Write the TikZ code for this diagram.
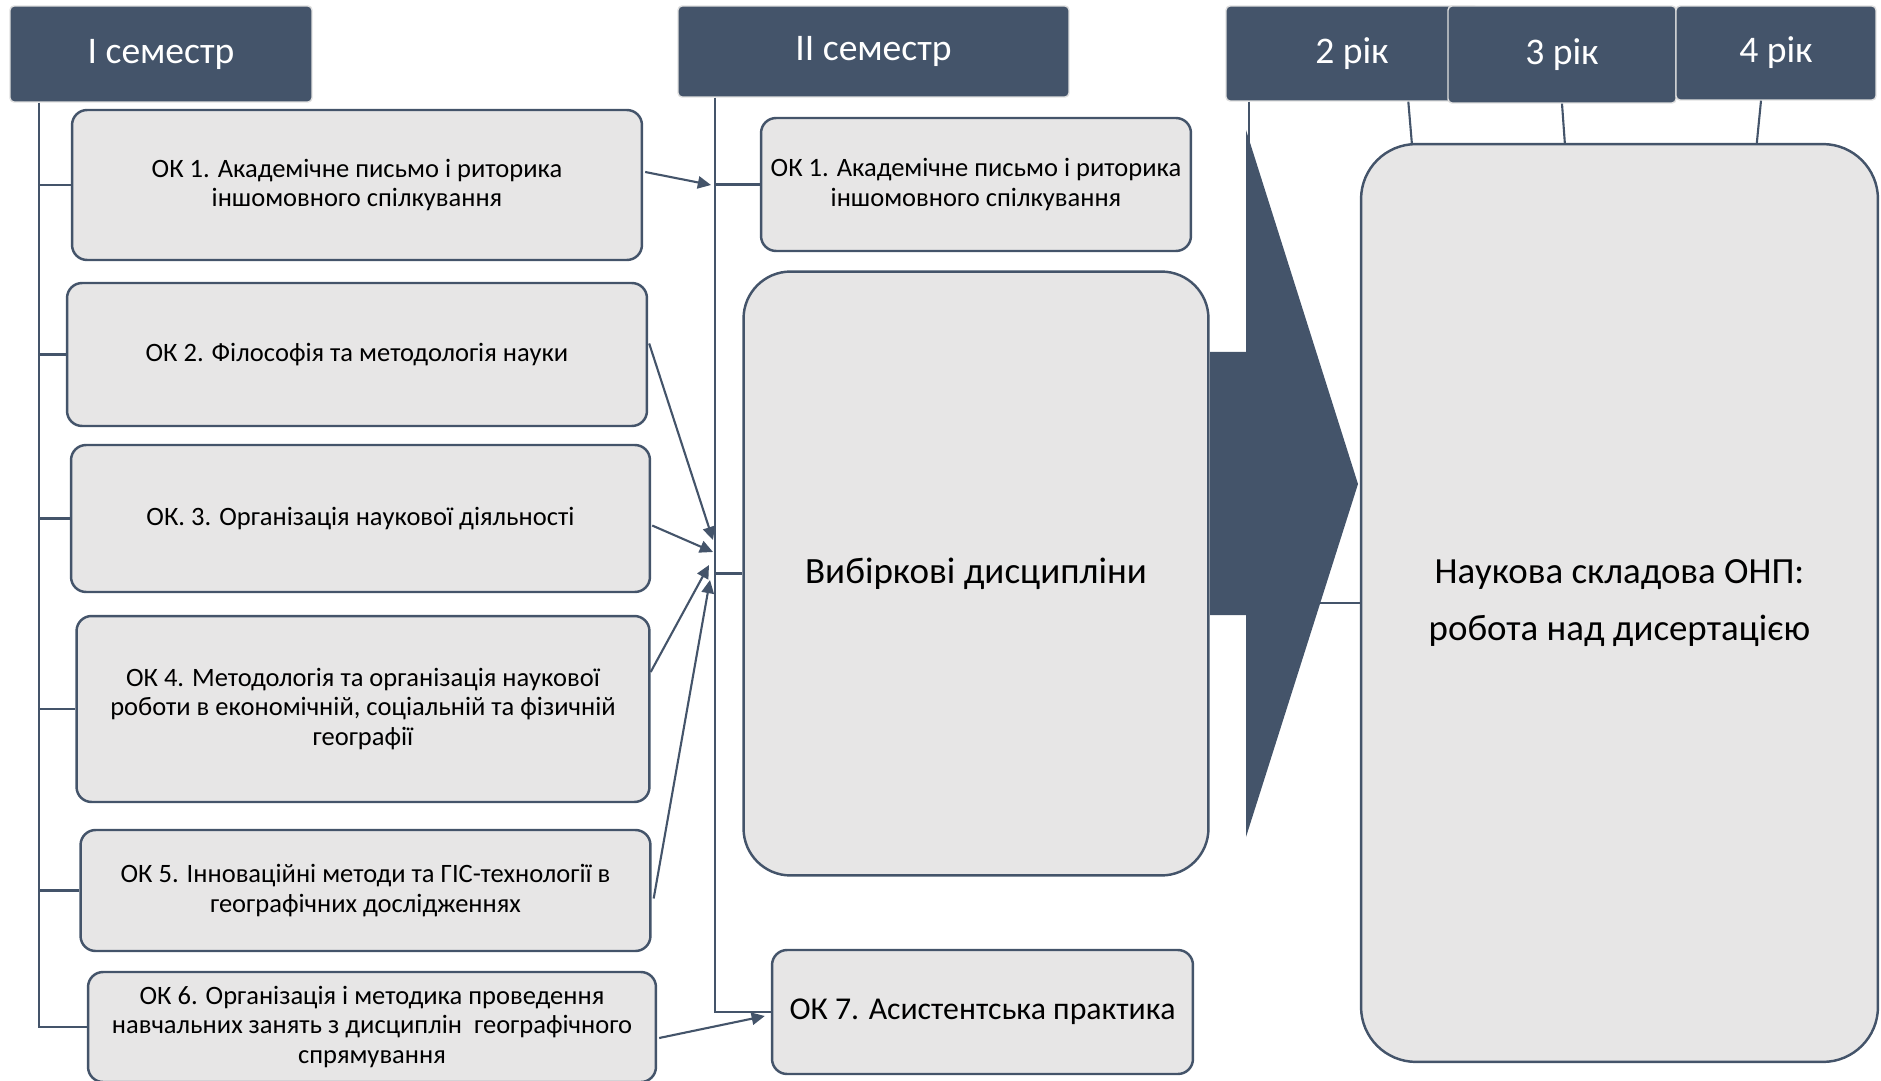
\documentclass[tikz,border=0pt]{standalone}
\usepackage{fontspec}
\setmainfont{Carlito}
\usetikzlibrary{calc,arrows.meta}

\definecolor{slate}{HTML}{44546A}
\definecolor{boxgray}{HTML}{E7E6E6}

\tikzset{
  header/.style={fill=slate, draw=white!88!black, line width=0.8pt,
    rounded corners=0.08cm, text=white, inner sep=0pt,
    font=\fontsize{21.4}{25}\selectfont},
  course/.style={fill=boxgray, draw=slate, line width=1.4pt,
    rounded corners=0.3cm, align=center, inner sep=0pt,
    font=\fontsize{15.1}{16.6}\selectfont},
  link/.style={draw=slate, line width=1.2pt},
  feed/.style={link, -{Triangle[length=7.5pt,width=7pt]}},
}

\begin{document}
\begin{tikzpicture}[x=0.02cm,y=-0.02cm]
  \useasboundingbox (0,0) rectangle (1881,1081);

  % headers
  \node[header, minimum width=6.04cm, minimum height=1.92cm] (s1) at (161,54) {I семестр};
  \node[header, minimum width=7.82cm, minimum height=1.82cm] (s2) at (873.5,51.5) {II семестр};
  \node[header, minimum width=5.04cm, minimum height=1.9cm] (y2) at (1352,53.5) {2 рік};
  \node[header, minimum width=4.56cm, minimum height=1.94cm] (y3) at (1562,54.5) {3 рік};
  \node[header, minimum width=4cm, minimum height=1.88cm] (y4) at (1776,53) {4 рік};

  % first semester
  \node[course, minimum width=11.4cm, minimum height=3cm] (a1) at (357,185)
    {ОК 1. Академічне письмо і риторика\\іншомовного спілкування};
  \node[course, minimum width=11.6cm, minimum height=2.86cm] (a2) at (357,354.5)
    {ОК 2. Філософія та методологія науки};
  \node[course, minimum width=11.58cm, minimum height=2.94cm] (a3) at (360.5,518.5)
    {ОК. 3. Організація наукової діяльності};
  \node[course, minimum width=11.46cm, minimum height=3.72cm] (a4) at (363,709)
    {ОК 4. Методологія та організація наукової\\роботи в економічній, соціальній та фізичній\\географії};
  \node[course, minimum width=11.4cm, minimum height=2.42cm] (a5) at (365.5,890.5)
    {ОК 5. Інноваційні методи та ГІС-технології в\\географічних дослідженнях};
  \node[course, minimum width=11.36cm, minimum height=2.2cm] (a6) at (372,1027)
    {ОК 6. Організація і методика проведення\\навчальних занять з дисциплін~ географічного\\спрямування};

  % second semester
  \node[course, minimum width=8.6cm, minimum height=2.66cm] (m1) at (976,184.5)
    {ОК 1. Академічне письмо і риторика\\іншомовного спілкування};
  \node[course, rounded corners=0.94cm, minimum width=9.3cm, minimum height=12.08cm,
    font=\fontsize{21.1}{25}\selectfont] (el) at (976,573.5) {Вибіркові дисципліни};
  \node[course, minimum width=8.42cm, minimum height=2.48cm,
    font=\fontsize{18.1}{21}\selectfont] (m7) at (982.5,1012) {ОК 7. Асистентська практика};

  % research part
  \node[course, rounded corners=1.1cm, minimum width=10.34cm, minimum height=18.36cm,
    font=\fontsize{21}{32}\selectfont] (dr) at (1619.5,603)
    {Наукова складова ОНП:\\робота над дисертацією};

  % tree of the first semester
  \coordinate (t1) at ($(s1.south west)+(30,0)$);
  \draw[link] (t1) |- (a6.west);
  \foreach \n in {a1,a2,a3,a4,a5}
    \draw[link] (t1 |- \n.west) -- (\n.west);

  % tree of the second semester
  \coordinate (t2) at ($(s2.south west)+(38,0)$);
  \draw[link] (t2) |- (m7.west);
  \foreach \n in {m1,el}
    \draw[link] (t2 |- \n.west) -- (\n.west);

  % courses carried over
  \coordinate (p1) at (711,185);
  \coordinate (p2) at (713,540);
  \coordinate (p3) at (713,552);
  \coordinate (p4) at (709,565);
  \coordinate (p5) at (710,580);
  \draw[feed] ($(a1.east)+(2,-13)$) -- (p1);
  \draw[feed] ($(a2.east)+(1,-11)$) -- (p2);
  \draw[feed] ($(a3.east)+(1,7)$) -- (p3);
  \draw[feed] ($(a4.east)+(0,-37)$) -- (p4);
  \draw[feed] ($(a5.east)+(2,8)$) -- (p5);
  \draw[feed] ($(a6.east)+(2,11)$) -- ($(m7.west)+(-6,4)$);

  % years to the thesis
  \draw[link] ($(y2.south west)+(24,0)$) |- (dr.west);
  \draw[link] ($(y2.south west)+(183,0)$) -- ($(dr.north west)+(52,0)$);
  \draw[link] (y3.south) -- ($(dr.north west)+(205,0)$);
  \draw[link] ($(y4.south)+(-15,0)$) -- ($(dr.north west)+(397,0)$);

  % big arrow
  \fill[slate] (1246,130) -- (1358,484) -- (1246,837) -- (1246,615)
    -- (1210,615) -- (1210,352) -- (1246,352) -- cycle;
\end{tikzpicture}
\end{document}
